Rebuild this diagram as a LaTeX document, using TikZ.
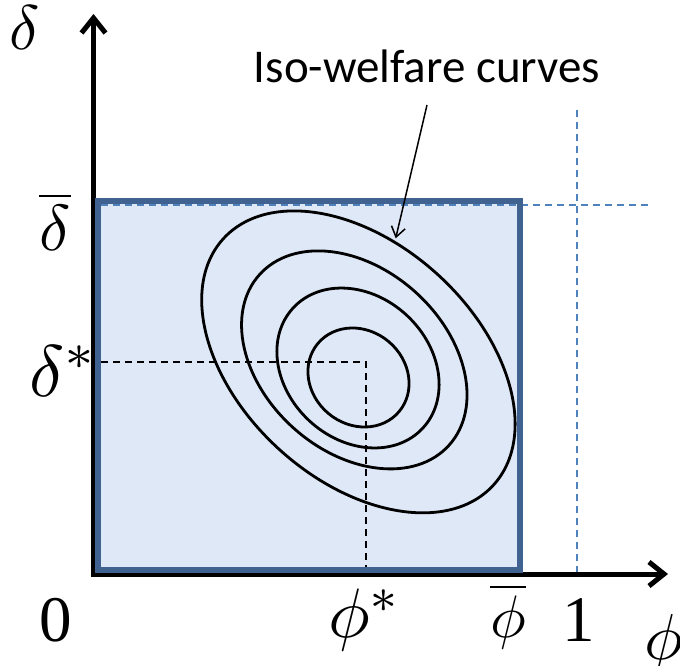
\documentclass[tikz,border=0pt]{standalone}
\usepackage{fontspec}
\usepackage{graphicx}
\setmainfont{Liberation Serif}
\newfontfamily\calibri{Carlito}
\usetikzlibrary{arrows.meta}
\definecolor{boxblue}{RGB}{63,98,145}
\definecolor{dashblue}{RGB}{79,129,189}
\definecolor{boxfill}{RGB}{222,232,246}
\newcommand{\biglab}[2]{\scalebox{#1}{#2}}
\begin{document}
\begin{tikzpicture}[x=1pt,y=-1pt,
  axis/.style={line width=5pt, line join=miter,
    {Straight Barb[length=15pt,width=24pt]}-{Straight Barb[length=15pt,width=24pt]}},
  bluedash/.style={dashblue, line width=2pt, dash pattern=on 7pt off 5pt},
  blackdash/.style={black, line width=1.8pt, dash pattern=on 7pt off 5pt},
  contour/.style={black, line width=2.8pt},
  lab/.style={font=\fontsize{10}{12}\selectfont, inner sep=0pt},
  isolab/.style={font=\calibri\fontsize{47}{56}\selectfont, inner sep=0pt}]
\useasboundingbox (0,0) rectangle (680,666);
% axes
\coordinate (O) at (93.5,574);
\coordinate (ytop) at (93.5,14);
\coordinate (xend) at (668,574);
\draw[axis] (xend) -- (O) -- (ytop);
% box
\coordinate (bl) at (98,569.5);
\coordinate (tr) at (520,201);
\fill[boxfill] (bl) rectangle (tr);
% dashed guides
\coordinate (h1) at (101,205);
\coordinate (h2) at (650,205);
\coordinate (v1) at (577,110);
\coordinate (v2) at (577,572);
\draw[bluedash] (h1) -- (h2);
\draw[bluedash] (v1) -- (v2);
\coordinate (d1) at (101,362);
\coordinate (dc) at (366,362);
\coordinate (d2) at (366,568);
\draw[blackdash] (d1) -- (dc) -- (d2);
% iso-welfare curves
\coordinate (c1) at (358.4,361.9);
\coordinate (c2) at (354.3,359.9);
\coordinate (c3) at (358,368);
\coordinate (c4) at (358.5,377.5);
\draw[contour, rotate around={-42.4:(c1)}] (c1) ellipse [x radius=182.8pt, y radius=118pt];
\draw[contour, rotate around={-42:(c2)}] (c2) ellipse [x radius=127.5pt, y radius=91.3pt];
\draw[contour, rotate around={-43:(c3)}] (c3) ellipse [x radius=88.4pt, y radius=71.8pt];
\draw[contour, rotate around={-40:(c4)}] (c4) ellipse [x radius=53pt, y radius=46.9pt];
% box border
\draw[boxblue, line width=6pt] (bl) rectangle (tr);
% label and pointer
\node[isolab, anchor=base] (iso) at (427,83) {Iso-welfare curves};
\coordinate (astart) at (427,105);
\coordinate (tip) at (395.7,238.3);
\draw[line width=1.5pt, -{Straight Barb[length=10pt,width=14pt]}] (astart) -- (tip);
% axis labels
\node[lab] (dlab) at (25,28) {\biglab{6.3}{$\delta$}};
\node[lab] (dbar) at (55,221) {\biglab{6.5}{$\overline{\delta}$}};
\node[lab] (dstar) at (64,371) {\biglab{7.3}{$\delta^{*}$}};
\node[lab] (zero) at (56,620) {\biglab{6.5}{0}};
\node[lab] (phistar) at (365,620) {\biglab{7}{$\phi^{*}$}};
\node[lab] (phibar) at (508,616) {\biglab{6}{$\overline{\phi}$}};
\node[lab] (one) at (579,620) {\biglab{6.5}{1}};
\node[lab] (phi) at (664,643) {\biglab{6.5}{$\phi$}};
\end{tikzpicture}
\end{document}
